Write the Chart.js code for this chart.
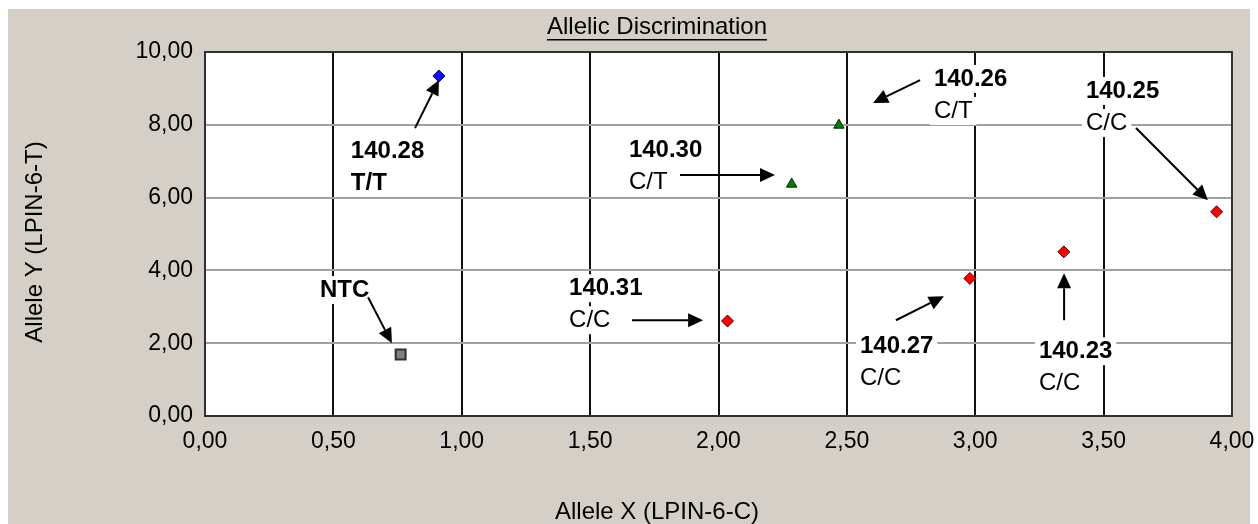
<!DOCTYPE html>
<html>
<head>
<meta charset="utf-8">
<script src="https://cdn.jsdelivr.net/npm/chart.js@4.4.1/dist/chart.umd.min.js"></script>
<style>
html,body{margin:0;padding:0;background:#fff;}
canvas{display:block;}
</style>
</head>
<body>
<canvas id="c" width="1258" height="524"></canvas>
<script>
// ---- data ----
const xTicks = [0, 0.5, 1, 1.5, 2, 2.5, 3, 3.5, 4];
const yTicks = [0, 2, 4, 6, 8, 10];
const sampleNames = ['140.28', '140.30', '140.26', '140.31', '140.27', '140.23', '140.25', 'NTC'];
const ttX = [0.911];
const ttY = [9.34];
const ctX = [2.285, 2.469];
const ctY = [6.37, 7.99];
const ccX = [2.035, 2.979, 3.345, 3.94];
const ccY = [2.61, 3.78, 4.51, 5.61];
const ntcX = [0.762];
const ntcY = [1.69];

const titleText = 'Allelic Discrimination';
const xTitle = 'Allele X (LPIN-6-C)';
const yTitle = 'Allele Y (LPIN-6-T)';

// annotation labels (positions in data units)
const notes = [
  {lines:['140.28','T/T'], bold:[true,true], tx:0.568, ty:7.28, ax:0.818, ay:7.91, hx:0.911, hy:9.23},
  {lines:['140.30','C/T'], bold:[true,false], tx:1.651, ty:7.30, ax:1.850, ay:6.62, hx:2.220, hy:6.62},
  {lines:['140.26','C/T'], bold:[true,false], tx:2.839, ty:9.26, ax:2.785, ay:9.23, hx:2.602, hy:8.60},
  {lines:['140.25','C/C'], bold:[true,false], tx:3.431, ty:8.93, ax:3.626, ay:7.91, hx:3.906, hy:5.93},
  {lines:['NTC'], bold:[true], tx:0.448, ty:3.46, ax:0.635, ay:3.26, hx:0.728, hy:2.00},
  {lines:['140.31','C/C'], bold:[true,false], tx:1.418, ty:3.51, ax:1.663, ay:2.63, hx:1.940, hy:2.63},
  {lines:['140.27','C/C'], bold:[true,false], tx:2.551, ty:1.92, ax:2.691, ay:2.63, hx:2.878, hy:3.29},
  {lines:['140.23','C/C'], bold:[true,false], tx:3.248, ty:1.78, ax:3.346, ay:2.63, hx:3.346, hy:3.92}
];

const FONT = '"Liberation Sans", Arial, sans-serif';
const fmt = v => Number(v).toFixed(2).replace('.', ',');
const toPts = (xs, ys) => xs.map((x, i) => ({x, y: ys[i]}));

const bgPlugin = {
  id: 'bg',
  beforeDraw(chart) {
    const ctx = chart.ctx, a = chart.chartArea;
    ctx.save();
    ctx.fillStyle = '#ffffff';
    ctx.fillRect(0, 0, chart.width, chart.height);
    ctx.fillStyle = '#d4d0c8';
    ctx.fillRect(8, 9, 1242, chart.height - 9);
    ctx.fillStyle = '#ffffff';
    ctx.fillRect(a.left, a.top, a.right - a.left, a.bottom - a.top);
    ctx.restore();
  }
};

function arrow(ctx, x1, y1, x2, y2) {
  const ang = Math.atan2(y2 - y1, x2 - x1);
  const L = 15, W = 7;
  const bx = x2 - L * Math.cos(ang), by = y2 - L * Math.sin(ang);
  ctx.beginPath();
  ctx.moveTo(x1, y1);
  ctx.lineTo(bx, by);
  ctx.lineWidth = 2;
  ctx.strokeStyle = '#000';
  ctx.stroke();
  ctx.beginPath();
  ctx.moveTo(x2, y2);
  ctx.lineTo(bx + W * Math.sin(ang), by - W * Math.cos(ang));
  ctx.lineTo(bx - W * Math.sin(ang), by + W * Math.cos(ang));
  ctx.closePath();
  ctx.fillStyle = '#000';
  ctx.fill();
}

const annoPlugin = {
  id: 'anno',
  beforeDatasetsDraw(chart) {
    const ctx = chart.ctx, a = chart.chartArea;
    const xs = chart.scales.x, ys = chart.scales.y;
    ctx.save();
    notes.forEach(n => {
      const tx = xs.getPixelForValue(n.tx), ty = ys.getPixelForValue(n.ty);
      n.lines.forEach((t, i) => {
        ctx.font = (n.bold[i] ? 'bold ' : '') + '24px ' + FONT;
        const w = ctx.measureText(t).width;
        const cy = ty + i * 32;
        ctx.fillStyle = '#ffffff';
        ctx.fillRect(tx - 4, cy - 14, w + 8, 28);
        ctx.fillStyle = '#000';
        ctx.textBaseline = 'middle';
        ctx.textAlign = 'left';
        ctx.fillText(t, tx, cy);
      });
      arrow(ctx, xs.getPixelForValue(n.ax), ys.getPixelForValue(n.ay),
                 xs.getPixelForValue(n.hx), ys.getPixelForValue(n.hy));
    });
    // frame
    ctx.strokeStyle = '#303030';
    ctx.lineWidth = 2;
    ctx.strokeRect(a.left, a.top, a.right - a.left, a.bottom - a.top);
    // titles
    ctx.fillStyle = '#000';
    ctx.textAlign = 'center';
    ctx.textBaseline = 'middle';
    ctx.font = '24px ' + FONT;
    const tw = ctx.measureText(titleText).width;
    ctx.fillText(titleText, 657, 27);
    ctx.fillRect(657 - tw / 2, 39, tw, 1.5);
    ctx.fillText(xTitle, 657, 512);
    ctx.translate(35, 242);
    ctx.rotate(-Math.PI / 2);
    ctx.fillText(yTitle, 0, 0);
    ctx.restore();
  }
};

new Chart(document.getElementById('c'), {
  type: 'scatter',
  data: {
    datasets: [
      {label: 'T/T', data: toPts(ttX, ttY), pointStyle: 'rectRot', pointRadius: 6,
       backgroundColor: '#1010ff', borderColor: '#000060', borderWidth: 1},
      {label: 'C/T', data: toPts(ctX, ctY), pointStyle: 'triangle', pointRadius: 6,
       backgroundColor: '#008000', borderColor: '#002000', borderWidth: 1},
      {label: 'C/C', data: toPts(ccX, ccY), pointStyle: 'rectRot', pointRadius: 6,
       backgroundColor: '#ff0000', borderColor: '#500000', borderWidth: 1},
      {label: 'NTC', data: toPts(ntcX, ntcY), pointStyle: 'rect', pointRadius: 7,
       backgroundColor: '#808080', borderColor: '#303030', borderWidth: 2}
    ]
  },
  options: {
    responsive: false,
    animation: false,
    devicePixelRatio: 1,
    layout: {padding: {top: 52, right: 26, left: 0, bottom: 0}},
    plugins: {legend: {display: false}, title: {display: false}, tooltip: {enabled: false}},
    scales: {
      x: {
        type: 'linear', min: 0, max: 4,
        afterBuildTicks: s => { s.ticks = xTicks.map(v => ({value: v})); },
        afterFit: s => { s.height = 108; s.paddingLeft = 0; s.paddingRight = 0; },
        ticks: {callback: fmt, color: '#000', padding: 12, maxRotation: 0, font: {family: FONT, size: 23}},
        grid: {color: '#111111', lineWidth: 2, drawTicks: false},
        border: {color: '#111111', width: 2}
      },
      y: {
        type: 'linear', min: 0, max: 10,
        afterBuildTicks: s => { s.ticks = yTicks.map(v => ({value: v})); },
        afterFit: s => { s.width = 205; s.paddingTop = 0; s.paddingBottom = 0; },
        ticks: {callback: fmt, color: '#000', padding: 12, font: {family: FONT, size: 23}},
        grid: {color: '#a0a0a0', lineWidth: 2, drawTicks: false},
        border: {color: '#111111', width: 2}
      }
    }
  },
  plugins: [bgPlugin, annoPlugin]
});
</script>
</body>
</html>
